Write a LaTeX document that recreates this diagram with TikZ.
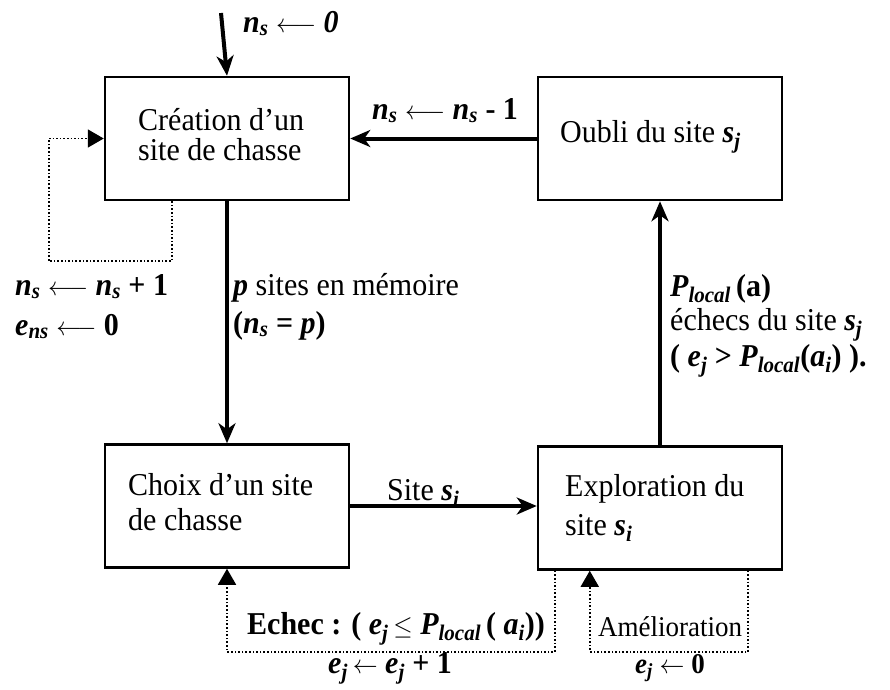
\documentclass[tikz,border=0pt]{standalone}
\usepackage{fontspec}
\setmainfont{Liberation Serif}
\usetikzlibrary{arrows.meta}
\newcommand\bi[1]{{\bfseries\itshape #1}}
\newcommand\ix[2]{\bi{#1}\textsubscript{\bi{#2}}}
\newcommand\vs[1]{\scalebox{1}[1.06]{#1}}
\newcommand\larr{\ensuremath{\longleftarrow}}
\begin{document}
\begin{tikzpicture}[x=1pt,y=-1pt,
  box/.style={draw, line width=2.5pt, rectangle, minimum width=244pt, minimum height=123pt, inner sep=0pt},
  txt/.style={anchor=base west, inner sep=0pt, text height=22pt, text depth=5pt, font=\fontsize{30}{30}\selectfont},
  small/.style={anchor=base west, inner sep=0pt, text height=20pt, text depth=5pt, font=\fontsize{27}{27}\selectfont},
  main/.style={line width=4pt, -{Stealth[length=20pt,width=17pt,inset=6pt]}},
  loopln/.style={line width=1.6pt, dash pattern=on 1.6pt off 2pt, -{Triangle[length=16pt,width=18pt]}}]
\useasboundingbox (0,0) rectangle (890,689);
% boxes
\node[box] (crea) at (227,138.5) {};
\node[box] (oubli) at (660,138.5) {};
\node[box] (choix) at (227,506) {};
\node[box] (expl) at (660,508) {};
% box texts
\node[txt] (t1a) at (138,130) {\vs{Création d’un}};
\node[txt] (t1b) at (138,160) {\vs{site de chasse}};
\node[txt] (t2) at (560,142) {\vs{Oubli du site \ix{s}{j}}};
\node[txt] (t3a) at (128,495) {\vs{Choix d’un site}};
\node[txt] (t3b) at (128,530) {\vs{de chasse}};
\node[txt] (t4a) at (565,496) {\vs{Exploration du}};
\node[txt] (t4b) at (565,535) {\vs{site \ix{s}{i}}};
% main arrows
\coordinate (top) at (221,13);
\draw[main] (top) -- (crea.north);
\draw[main] (oubli.west) -- (crea.east);
\draw[main] (crea.south) -- (choix.north);
\draw[main] (choix.east) -- (choix.east -| expl.west);
\draw[main] (expl.north) -- (oubli.south);
% dotted loops
\draw[loopln] ([xshift=68pt]crea.south west) -- ++(0,60) -- ++(-123,0) |- (crea.west);
\draw[loopln] ([xshift=18pt]expl.south west) -- ++(0,81) -| (choix.south);
\draw[loopln] ([xshift=-35pt]expl.south east) -- ++(0,81) -| ([xshift=53pt]expl.south west);
% labels
\node[txt] (l0) at (243,32) {\vs{\ix{n}{s} \larr{} \bi{0}}};
\node[txt] (l1) at (372,119) {\vs{\ix{n}{s} \larr{} \ix{n}{s} \textbf{- 1}}};
\node[txt] (l2a) at (15,295) {\vs{\ix{n}{s} \larr{} \ix{n}{s} \textbf{+ 1}}};
\node[txt] (l2b) at (15,335) {\vs{\ix{e}{ns} \larr{} \textbf{0}}};
\node[txt] (l3a) at (233,295) {\vs{\bi{p} sites en mémoire}};
\node[txt] (l3b) at (233,333) {\vs{\textbf{(}\ix{n}{s} \textbf{=} \bi{p}\textbf{)}}};
\node[txt] (l4) at (387,500) {\vs{Site \ix{s}{i}}};
\node[txt] (l5a) at (670,296) {\vs{\ix{P}{local}\,\textbf{(a)}}};
\node[txt] (l5b) at (670,330) {\vs{échecs du site \ix{s}{j}}};
\node[txt] (l5c) at (670,366) {\vs{\textbf{(} \ix{e}{j} \textbf{>} \ix{P}{local}\textbf{(}\ix{a}{i}\textbf{) ).}}};
\node[txt] (l6a) at (247,634) {\vs{\textbf{Echec : (} \ix{e}{j}\,$\le$ \ix{P}{local}\,\textbf{(} \ix{a}{i}\textbf{))}}};
\node[txt] (l6b) at (328,673) {\vs{\ix{e}{j}\,$\leftarrow$ \ix{e}{j} \textbf{+ 1}}};
\node[small] (l7a) at (598,636) {\vs{Amélioration}};
\node[small] (l7b) at (635,673) {\vs{\ix{e}{j} $\leftarrow$ \textbf{0}}};
\end{tikzpicture}
\end{document}
